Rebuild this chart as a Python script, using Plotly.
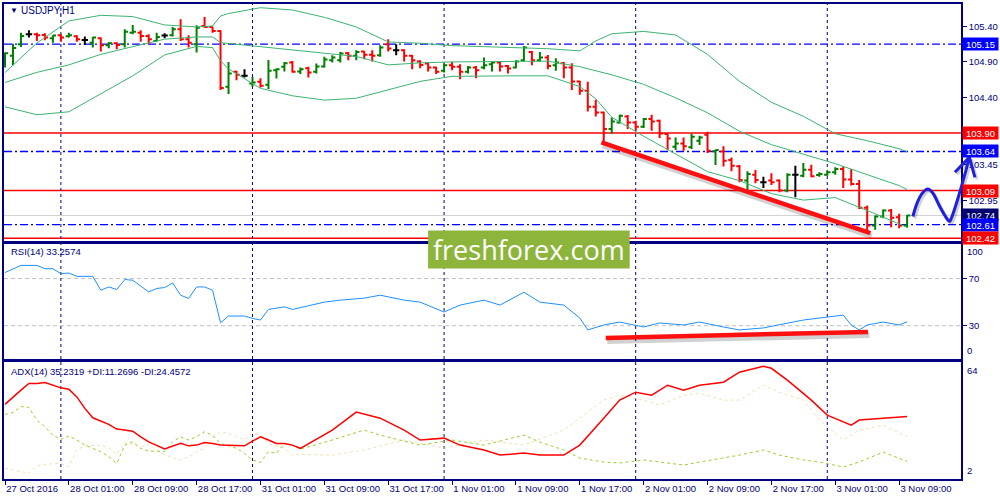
import plotly.graph_objects as go

# ---------------- data ----------------
tick_idx = [0, 8, 16, 24, 32, 40, 48, 56, 64, 72, 80, 88, 96, 104, 112]
tick_text = ["27 Oct 2016", "28 Oct 01:00", "28 Oct 09:00", "28 Oct 17:00", "31 Oct 01:00",
             "31 Oct 09:00", "31 Oct 17:00", "1 Nov 01:00", "1 Nov 09:00", "1 Nov 17:00",
             "2 Nov 01:00", "2 Nov 09:00", "2 Nov 17:00", "3 Nov 01:00", "3 Nov 09:00"]
day_start_idx = [7, 31, 55, 79, 103]

bar_open = [104.891, 104.986, 105.150, 105.290, 105.290, 105.280, 105.234, 105.276, 105.262, 105.262,
            105.210, 105.172, 105.234, 105.136, 105.164, 105.150, 105.313, 105.313, 105.266, 105.196,
            105.271, 105.276, 105.360, 105.220, 105.150, 105.407, 105.393, 105.337, 104.550, 104.761,
            104.705, 104.596, 104.620, 104.578, 104.785, 104.831, 104.891, 104.765, 104.813, 104.761,
            104.835, 104.925, 104.925, 105.023, 104.986, 105.046, 105.000, 104.995, 105.150, 105.066,
            105.066, 104.986, 104.905, 104.877, 104.821, 104.775, 104.855, 104.831, 104.761, 104.821,
            104.821, 104.869, 104.891, 104.845, 104.821, 104.925, 105.042, 104.925, 104.962, 104.855,
            104.883, 104.821, 104.625, 104.494, 104.269, 104.189, 103.956, 104.049, 104.133, 104.049,
            103.988, 104.096, 104.073, 103.886, 103.707, 103.754, 103.698, 103.792, 103.876, 103.645,
            103.641, 103.521, 103.431, 103.230, 103.314, 103.206, 103.230, 103.230, 103.090, 103.314,
            103.300, 103.384, 103.310, 103.314, 103.346, 103.394, 103.244, 103.184, 102.847, 102.598,
            102.724, 102.809, 102.714, 102.598]
bar_high = [105.032, 105.158, 105.313, 105.346, 105.313, 105.304, 105.276, 105.290, 105.313, 105.276,
            105.257, 105.252, 105.243, 105.182, 105.178, 105.360, 105.421, 105.346, 105.290, 105.313,
            105.304, 105.393, 105.501, 105.276, 105.417, 105.533, 105.397, 105.346, 104.901, 104.775,
            104.799, 104.691, 104.672, 104.929, 104.807, 104.901, 104.915, 104.821, 104.831, 104.877,
            104.972, 104.995, 105.042, 105.042, 105.066, 105.056, 105.066, 105.136, 105.220, 105.150,
            105.080, 104.998, 104.925, 104.891, 104.831, 104.877, 104.901, 104.869, 104.845, 104.845,
            104.962, 104.905, 104.915, 104.859, 104.925, 105.126, 105.056, 105.042, 104.998, 104.953,
            104.901, 104.883, 104.634, 104.620, 104.367, 104.199, 104.119, 104.157, 104.153, 104.073,
            104.111, 104.157, 104.087, 103.900, 103.838, 103.838, 103.894, 103.862, 103.918, 103.665,
            103.712, 103.557, 103.450, 103.361, 103.380, 103.286, 103.332, 103.244, 103.332, 103.441,
            103.478, 103.455, 103.346, 103.370, 103.417, 103.431, 103.394, 103.240, 102.879, 102.738,
            102.823, 102.832, 102.762, 102.745]
bar_low = [104.821, 104.855, 105.112, 105.243, 105.196, 105.206, 105.172, 105.186, 105.243, 105.186,
           105.140, 105.102, 105.046, 105.094, 105.080, 105.102, 105.290, 105.186, 105.150, 105.186,
           105.234, 105.257, 105.196, 105.102, 105.032, 105.383, 105.313, 104.504, 104.448, 104.644,
           104.681, 104.550, 104.540, 104.518, 104.667, 104.765, 104.751, 104.729, 104.681, 104.737,
           104.821, 104.891, 104.891, 104.925, 104.925, 104.939, 104.905, 104.972, 105.046, 104.995,
           104.905, 104.799, 104.813, 104.765, 104.729, 104.751, 104.785, 104.658, 104.737, 104.672,
           104.799, 104.765, 104.765, 104.737, 104.813, 104.915, 104.855, 104.905, 104.799, 104.775,
           104.672, 104.504, 104.438, 104.203, 104.133, 103.768, 103.894, 104.035, 103.956, 103.932,
           103.970, 103.932, 103.830, 103.661, 103.661, 103.651, 103.675, 103.731, 103.619, 103.450,
           103.427, 103.361, 103.206, 103.099, 103.192, 103.127, 103.169, 103.066, 103.066, 102.995,
           103.276, 103.276, 103.286, 103.300, 103.314, 103.127, 103.160, 102.832, 102.528, 102.537,
           102.700, 102.574, 102.560, 102.566]
bar_close = [105.023, 105.098, 105.266, 105.290, 105.276, 105.243, 105.271, 105.243, 105.276, 105.220,
             105.210, 105.243, 105.136, 105.164, 105.140, 105.327, 105.327, 105.266, 105.220, 105.252,
             105.271, 105.360, 105.220, 105.172, 105.383, 105.393, 105.337, 104.532, 104.737, 104.719,
             104.705, 104.611, 104.564, 104.775, 104.799, 104.883, 104.761, 104.799, 104.751, 104.835,
             104.934, 104.962, 105.018, 104.986, 105.042, 105.000, 104.986, 105.102, 105.088, 105.066,
             104.986, 104.925, 104.859, 104.821, 104.761, 104.855, 104.831, 104.761, 104.821, 104.785,
             104.855, 104.891, 104.835, 104.807, 104.905, 105.102, 104.925, 104.962, 104.845, 104.891,
             104.821, 104.625, 104.494, 104.269, 104.189, 103.956, 104.063, 104.143, 104.049, 103.988,
             104.096, 104.063, 103.894, 103.824, 103.754, 103.712, 103.848, 103.838, 103.651, 103.660,
             103.511, 103.441, 103.240, 103.324, 103.240, 103.206, 103.206, 103.090, 103.314, 103.314,
             103.384, 103.290, 103.324, 103.346, 103.394, 103.244, 103.184, 102.847, 102.598, 102.724,
             102.809, 102.706, 102.598, 102.740]

bb_idx = [0, 4, 8, 12, 16, 20, 24, 26, 27, 28, 32, 36, 40, 44, 48, 52, 56, 60, 64, 68, 72, 74, 76,
          80, 84, 88, 92, 96, 100, 104, 108, 112, 113]
bb_upper = [104.751, 105.168, 105.477, 105.557, 105.539, 105.421, 105.393, 105.407, 105.547, 105.582,
            105.664, 105.632, 105.529, 105.393, 105.182, 105.164, 105.130, 105.116, 105.102, 105.087,
            105.056, 105.196, 105.297, 105.330, 105.280, 105.007, 104.627, 104.332, 104.136, 103.890,
            103.792, 103.679, 103.637]
bb_middle = [104.611, 104.754, 104.859, 105.007, 105.116, 105.221, 105.252, 105.252, 105.172, 105.161,
             105.119, 105.070, 105.028, 104.978, 104.859, 104.887, 104.901, 104.905, 104.915, 104.911,
             104.834, 104.775, 104.719, 104.585, 104.396, 104.185, 103.925, 103.736, 103.602, 103.469,
             103.314, 103.160, 103.104]
bb_lower = [104.269, 104.157, 104.199, 104.452, 104.705, 104.999, 105.119, 105.102, 104.915, 104.803,
            104.529, 104.424, 104.363, 104.389, 104.508, 104.627, 104.698, 104.705, 104.705, 104.705,
            104.554, 104.382, 104.122, 103.855, 103.609, 103.356, 103.230, 103.047, 102.956, 102.991,
            102.809, 102.619, 102.574]

rsi_idx = [0, 1, 2, 4, 5, 6, 7, 8, 9, 11, 12, 13, 14, 15, 16, 18, 19, 20, 21, 22, 23, 24, 25, 26, 27,
           28, 30, 31, 32, 33, 35, 36, 37, 40, 42, 45, 47, 50, 52, 55, 57, 60, 62, 65, 67, 70, 72, 73,
           75, 77, 80, 82, 85, 87, 90, 92, 95, 97, 100, 102, 105, 106, 107, 108, 110, 112, 113]
rsi_val = [75.1, 78.4, 81.2, 81.2, 78.4, 78.4, 74.2, 74.7, 71.9, 71.9, 60.1, 62.9, 60.7, 69.2, 68.6,
           58.7, 61.6, 62.4, 66.3, 55.9, 53.1, 62.9, 62.9, 60.1, 32.5, 38.2, 38.2, 36.2, 34.8, 43.8,
           46.0, 43.8, 45.2, 50.0, 51.7, 53.4, 55.9, 51.7, 50.0, 41.6, 47.5, 51.7, 47.5, 58.4, 50.0,
           47.5, 36.5, 26.4, 30.6, 33.1, 28.9, 32.3, 30.6, 33.1, 28.9, 26.4, 28.1, 30.6, 34.8, 36.5,
           39.0, 30.6, 26.4, 30.6, 33.1, 30.6, 33.26]

adx_idx = [0, 1, 2, 3, 4, 5, 6, 7, 8, 9, 10, 11, 13, 14, 15, 16, 17, 18, 20, 21, 22, 23, 24, 25, 26,
           27, 29, 30, 31, 32, 33, 34, 35, 36, 37, 41, 44, 47, 50, 52, 55, 57, 60, 62, 65, 67, 70, 72,
           75, 77, 79, 81, 83, 85, 87, 90, 92, 95, 96, 98, 101, 103, 106, 107, 110, 113]
adx_val = [41.6, 45.6, 49.2, 52.7, 52.7, 53.2, 51.8, 50.4, 49.7, 45.6, 39.5, 34.5, 31.0, 28.5, 28.0,
           27.4, 24.4, 21.7, 17.9, 19.6, 20.9, 19.6, 20.0, 21.4, 20.9, 20.0, 19.6, 19.6, 22.1, 24.4,
           22.7, 20.9, 20.9, 20.0, 18.3, 28.0, 37.5, 34.3, 28.0, 22.7, 23.7, 20.0, 17.4, 14.7, 15.8,
           14.7, 14.7, 20.0, 34.3, 43.9, 48.1, 46.5, 51.8, 49.2, 51.8, 53.4, 58.7, 61.9, 60.8, 54.5,
           43.9, 35.9, 30.6, 33.3, 34.3, 35.23]
pdi_idx = [0, 1, 2, 3, 4, 5, 6, 7, 8, 9, 10, 11, 12, 13, 14, 15, 16, 17, 18, 19, 20, 21, 22, 23, 24,
           25, 26, 27, 29, 30, 31, 32, 33, 34, 35, 36, 37, 41, 45, 47, 52, 56, 60, 65, 67, 70, 72, 75,
           77, 80, 82, 85, 87, 90, 92, 95, 97, 100, 102, 105, 107, 110, 111, 113]
pdi_val = [36.3, 37.3, 40.5, 40.0, 33.3, 29.7, 25.3, 23.0, 24.8, 22.7, 20.0, 18.3, 16.5, 13.8, 10.3,
           20.0, 21.8, 18.3, 16.8, 16.8, 16.5, 21.8, 24.4, 22.7, 24.4, 27.1, 25.3, 20.9, 18.3, 15.6,
           12.1, 10.8, 16.5, 15.6, 20.9, 20.0, 17.9, 22.7, 28.0, 25.3, 20.0, 22.7, 20.0, 25.3, 21.6,
           17.4, 13.1, 11.0, 10.5, 12.1, 11.0, 9.4, 11.0, 13.1, 14.7, 17.4, 14.7, 12.1, 11.0, 8.4,
           11.0, 16.3, 14.7, 11.27]
mdi_idx = [0, 1, 3, 4, 5, 7, 8, 9, 10, 12, 13, 14, 15, 17, 18, 19, 20, 22, 23, 24, 25, 26, 27, 28, 30,
           31, 32, 33, 35, 36, 37, 41, 45, 50, 55, 60, 65, 70, 72, 75, 77, 80, 82, 85, 87, 90, 92, 95,
           97, 100, 102, 105, 107, 110, 113]
mdi_val = [7.7, 6.8, 5.0, 9.0, 9.8, 10.3, 8.5, 17.4, 19.6, 20.0, 18.6, 15.1, 21.4, 19.1, 20.4, 17.4,
           14.7, 12.1, 13.8, 16.5, 18.3, 23.6, 27.1, 26.2, 22.7, 26.2, 25.3, 20.9, 18.3, 14.7, 15.1,
           14.7, 17.4, 22.7, 18.4, 22.7, 20.0, 28.0, 34.3, 43.9, 46.5, 43.9, 41.2, 46.5, 47.6, 43.9,
           43.9, 51.8, 48.1, 43.9, 33.3, 22.7, 28.0, 30.6, 24.46]

red_levels = [103.90, 103.09, 102.42]
blue_levels = [105.15, 103.64, 102.61]
price_ticks = [105.40, 104.90, 104.40, 103.45, 102.95]
rsi_levels = [70, 30]

trend_price_idx = [74.7, 108.4]
trend_price_val = [103.768, 102.490]
trend_rsi_idx = [75.25, 108.1]
trend_rsi_val = [19.6, 24.7]

arrow_idx = [113.71, 114.21, 114.84, 115.59, 116.29, 117.13, 118.16, 118.59, 119.41, 120.25, 120.79]
arrow_val = [102.724, 102.903, 103.043, 103.113, 103.043, 102.855, 102.668, 102.714, 102.995, 103.324, 103.557]
arrow_barb_idx = [118.99, 121.5]
arrow_barb_val = [103.347, 103.276]

rsi_title = "RSI(14) 33.2574"
adx_title = "ADX(14) 35.2319 +DI:11.2696 -DI:24.4572"
chart_title = "USDJPY,H1"

# ---------------- style / geometry ----------------
NAVY = "#000080"
FONT = "Liberation Sans"
FS = 9.5
W, H = 1000, 500
ML, MR, MT, MB = 2, 39, 3, 21
PW, PH = W - ML - MR, H - MT - MB

X_RANGE = [-0.125, 119.75]
P_RANGE = [102.373, 105.716]
R_RANGE = [1.5, 99.8]
A_RANGE = [2.0, 64.0]
DOM_MAIN = [0.5, 1.0]
DOM_RSI = [0.2521, 0.4958]
DOM_ADX = [0.0, 0.2458]
TICK = 0.4


def px_x(px):
    return (px - ML) / PW


def px_y(py):
    return (H - MB - py) / PH


def idx_to_paper(i):
    return (i - X_RANGE[0]) / (X_RANGE[1] - X_RANGE[0])


price_per_px = (P_RANGE[1] - P_RANGE[0]) / (PH * (DOM_MAIN[1] - DOM_MAIN[0]))
rsi_per_px = (R_RANGE[1] - R_RANGE[0]) / (PH * (DOM_RSI[1] - DOM_RSI[0]))
idx_per_px = (X_RANGE[1] - X_RANGE[0]) / PW

fig = go.Figure()

n = len(bar_close)
groups = [
    ("#008000", [i for i in range(n) if bar_close[i] > bar_open[i]]),
    ("#ff0000", [i for i in range(n) if bar_close[i] < bar_open[i]]),
    ("#000000", [i for i in range(n) if bar_close[i] == bar_open[i]]),
]
for color, sel in groups:
    xs, ys = [], []
    for i in sel:
        xs += [i, i, None, i - TICK, i, None, i, i + TICK, None]
        ys += [bar_low[i], bar_high[i], None, bar_open[i], bar_open[i], None,
               bar_close[i], bar_close[i], None]
    fig.add_trace(go.Scatter(x=xs, y=ys, mode="lines", line=dict(color=color, width=2),
                             xaxis="x", yaxis="y", hoverinfo="skip", showlegend=False))

for band in (bb_upper, bb_middle, bb_lower):
    fig.add_trace(go.Scatter(x=bb_idx, y=band, mode="lines", line=dict(color="#3cb371", width=1),
                             xaxis="x", yaxis="y", hoverinfo="skip", showlegend=False))

fig.add_trace(go.Scatter(x=rsi_idx, y=rsi_val, mode="lines", line=dict(color="#1e90ff", width=1),
                         xaxis="x2", yaxis="y2", hoverinfo="skip", showlegend=False))

fig.add_trace(go.Scatter(x=mdi_idx, y=mdi_val, mode="lines",
                         line=dict(color="#f5deb3", width=1, dash="3px,3px"),
                         xaxis="x3", yaxis="y3", hoverinfo="skip", showlegend=False))
fig.add_trace(go.Scatter(x=pdi_idx, y=pdi_val, mode="lines",
                         line=dict(color="#9acd32", width=1, dash="3px,3px"),
                         xaxis="x3", yaxis="y3", hoverinfo="skip", showlegend=False))
fig.add_trace(go.Scatter(x=adx_idx, y=adx_val, mode="lines", line=dict(color="#ff0000", width=1.5),
                         xaxis="x3", yaxis="y3", hoverinfo="skip", showlegend=False))

shapes = []
# bid line
shapes.append(dict(type="line", xref="x domain", x0=0, x1=1, yref="y", y0=bar_close[-1], y1=bar_close[-1],
                   line=dict(color="#d0d0d0", width=1), layer="below"))
for v in red_levels:
    shapes.append(dict(type="line", xref="x domain", x0=0, x1=1, yref="y", y0=v, y1=v,
                       line=dict(color="#ff0000", width=1.5), layer="below"))
for v in blue_levels:
    shapes.append(dict(type="line", xref="x domain", x0=0, x1=1, yref="y", y0=v, y1=v,
                       line=dict(color="#0000ff", width=1.3, dash="8px,3px,2px,3px"), layer="below"))
for v in rsi_levels:
    shapes.append(dict(type="line", xref="x2 domain", x0=0, x1=1, yref="y2", y0=v, y1=v,
                       line=dict(color="#c0c0c0", width=1, dash="4px,3px"), layer="below"))
for d in day_start_idx:
    shapes.append(dict(type="line", xref="x", x0=d, x1=d, yref="paper", y0=0, y1=1,
                       line=dict(color=NAVY, width=1, dash="3px,3px"), layer="below"))

# trend lines with soft shadow
sx, sy = 1.5 * idx_per_px, 3 * price_per_px
shapes.append(dict(type="line", xref="x", yref="y",
                   x0=trend_price_idx[0] + sx, x1=trend_price_idx[1] + sx,
                   y0=trend_price_val[0] - sy, y1=trend_price_val[1] - sy,
                   line=dict(color="rgba(0,0,0,0.18)", width=6)))
shapes.append(dict(type="line", xref="x", yref="y",
                   x0=trend_price_idx[0], x1=trend_price_idx[1],
                   y0=trend_price_val[0], y1=trend_price_val[1],
                   line=dict(color="#ff1010", width=4.5)))
sr = 3 * rsi_per_px
shapes.append(dict(type="line", xref="x2", yref="y2",
                   x0=trend_rsi_idx[0] + sx, x1=trend_rsi_idx[1] + sx,
                   y0=trend_rsi_val[0] - sr, y1=trend_rsi_val[1] - sr,
                   line=dict(color="rgba(0,0,0,0.18)", width=6)))
shapes.append(dict(type="line", xref="x2", yref="y2",
                   x0=trend_rsi_idx[0], x1=trend_rsi_idx[1],
                   y0=trend_rsi_val[0], y1=trend_rsi_val[1],
                   line=dict(color="#ff1010", width=4.5)))


# hand-drawn blue arrow (may extend into the right margin)
def smooth_path(pts):
    d = "M{:.5f},{:.5f}".format(*pts[0])
    for k in range(len(pts) - 1):
        p0 = pts[k - 1] if k > 0 else pts[k]
        p1, p2 = pts[k], pts[k + 1]
        p3 = pts[k + 2] if k + 2 < len(pts) else p2
        c1 = (p1[0] + (p2[0] - p0[0]) / 6, p1[1] + (p2[1] - p0[1]) / 6)
        c2 = (p2[0] - (p3[0] - p1[0]) / 6, p2[1] - (p3[1] - p1[1]) / 6)
        d += " C{:.5f},{:.5f} {:.5f},{:.5f} {:.5f},{:.5f}".format(c1[0], c1[1], c2[0], c2[1], p2[0], p2[1])
    return d


for dx, dy, col in ((2 * idx_per_px, -2 * price_per_px, "rgba(0,0,0,0.18)"), (0, 0, "#1f1fe0")):
    pts = [(idx_to_paper(i + dx), v + dy) for i, v in zip(arrow_idx, arrow_val)]
    shapes.append(dict(type="path", xref="paper", yref="y", path=smooth_path(pts),
                       line=dict(color=col, width=3)))
    tip = pts[-1]
    for bi, bv in zip(arrow_barb_idx, arrow_barb_val):
        shapes.append(dict(type="line", xref="paper", yref="y", x0=tip[0], y0=tip[1],
                           x1=idx_to_paper(bi + dx), y1=bv + dy, line=dict(color=col, width=3)))

# freshforex logo block
shapes.append(dict(type="rect", xref="paper", yref="paper", x0=px_x(427), x1=px_x(629),
                   y0=px_y(268), y1=px_y(230), fillcolor="#8db53c", line=dict(width=0), layer="above"))

annotations = []
annotations.append(dict(xref="paper", yref="paper", x=(px_x(427) + px_x(629)) / 2, y=(px_y(268) + px_y(230)) / 2,
                        text="freshforex.com", showarrow=False, xanchor="center", yanchor="middle",
                        font=dict(family="Open Sans", size=27, color="white")))
annotations.append(dict(xref="paper", yref="paper", x=px_x(6), y=px_y(10), text="▼", showarrow=False,
                        xanchor="left", yanchor="middle", font=dict(family=FONT, size=8, color=NAVY)))
annotations.append(dict(xref="paper", yref="paper", x=px_x(17), y=px_y(10), text=chart_title, showarrow=False,
                        xanchor="left", yanchor="middle", font=dict(family=FONT, size=FS + 0.5, color=NAVY)))
annotations.append(dict(xref="paper", yref="paper", x=px_x(7), y=px_y(251), text=rsi_title, showarrow=False,
                        xanchor="left", yanchor="middle", font=dict(family=FONT, size=FS, color=NAVY)))
annotations.append(dict(xref="paper", yref="paper", x=px_x(7), y=px_y(371), text=adx_title, showarrow=False,
                        xanchor="left", yanchor="middle", font=dict(family=FONT, size=FS, color=NAVY)))

# right-side labels for RSI and ADX extremes
for txt, ref, yv, anc in (("100", "y2 domain", 1, "top"), ("0", "y2 domain", 0, "bottom"),
                          ("64", "y3 domain", 1, "top"), ("2", "y3 domain", 0, "bottom")):
    annotations.append(dict(xref="paper", yref=ref, x=1, y=yv, xanchor="left", yanchor=anc, xshift=4,
                            yshift=-1 if anc == "top" else 1,
                            text=txt, showarrow=False, font=dict(family=FONT, size=FS, color=NAVY)))

# boxed price labels
boxes = [(v, "#0000ff") for v in blue_levels] + [(v, "#ff0000") for v in red_levels] + [(bar_close[-1], "#000070")]
boxes.sort(key=lambda b: -b[0])
for v, col in boxes:
    annotations.append(dict(xref="paper", yref="y", x=1, y=v, xanchor="left", yanchor="middle", xshift=1,
                            text="{:.2f}".format(v), showarrow=False, bgcolor=col, width=35, height=12,
                            borderpad=0, align="center",
                            font=dict(family=FONT, size=FS, color="white")))

axis_box = dict(showline=True, mirror=True, linecolor=NAVY, linewidth=1.5, showgrid=False, zeroline=False,
                fixedrange=True)
tickfont = dict(family=FONT, size=FS, color=NAVY)

fig.update_layout(
    width=W, height=H,
    margin=dict(l=ML, r=MR, t=MT, b=MB),
    paper_bgcolor="white", plot_bgcolor="white",
    showlegend=False, hovermode=False,
    xaxis=dict(domain=[0, 1], range=X_RANGE, anchor="y", showticklabels=False, ticks="", **axis_box),
    xaxis2=dict(domain=[0, 1], range=X_RANGE, anchor="y2", matches="x", showticklabels=False, ticks="",
                **axis_box),
    xaxis3=dict(domain=[0, 1], range=X_RANGE, anchor="y3", matches="x", tickmode="array",
                tickvals=tick_idx, ticktext=tick_text, ticks="outside", ticklen=4, tickcolor=NAVY,
                ticklabelposition="outside right", tickfont=tickfont, **axis_box),
    yaxis=dict(domain=DOM_MAIN, range=P_RANGE, anchor="x", side="right", tickmode="array",
               tickvals=price_ticks, ticktext=["{:.2f}".format(v) for v in price_ticks],
               ticks="outside", ticklen=4, tickcolor=NAVY, tickfont=tickfont, **axis_box),
    yaxis2=dict(domain=DOM_RSI, range=R_RANGE, anchor="x2", side="right", tickmode="array",
                tickvals=rsi_levels, ticktext=[str(v) for v in rsi_levels],
                ticks="outside", ticklen=4, tickcolor=NAVY, tickfont=tickfont, **axis_box),
    yaxis3=dict(domain=DOM_ADX, range=A_RANGE, anchor="x3", side="right", tickmode="array",
                tickvals=[], ticks="", tickfont=tickfont, **axis_box),
    shapes=shapes,
    annotations=annotations,
)

fig.write_html("out.html", config={"displayModeBar": False},
               post_script="document.body.style.margin='0px';document.body.style.padding='0px';")
